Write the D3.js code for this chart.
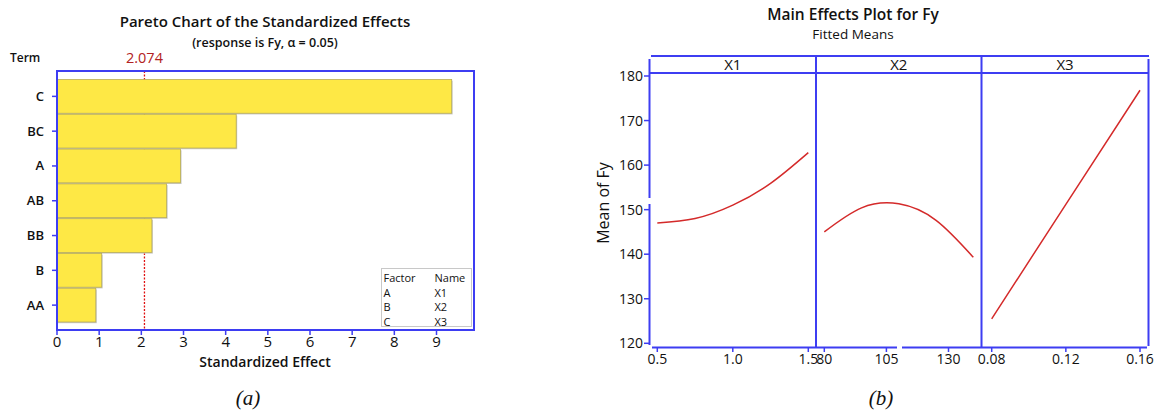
<!DOCTYPE html>
<html>
<head>
<meta charset="utf-8">
<script src="https://cdn.jsdelivr.net/npm/d3@7"></script>
<style>
  body { margin: 0; background: #fff; }
  text { font-family: "Open Sans", "Noto Sans", sans-serif; fill: #111; }
</style>
</head>
<body>
<div id="chart"></div>
<script>
// chart data
var terms = ["C", "BC", "A", "AB", "BB", "B", "AA"];
var effects = [9.36, 4.25, 2.93, 2.60, 2.25, 1.06, 0.92];
var critical = 2.074;
var effectTicks = [0, 1, 2, 3, 4, 5, 6, 7, 8, 9];
var factorCodes = ["A", "B", "C"];
var factorNames = ["X1", "X2", "X3"];

var x1Levels = [0.5, 0.75, 1.0, 1.25, 1.5];
var x1Means = [147.0, 148.0, 151.0, 155.9, 162.8];
var x2Levels = [80, 95, 110, 125, 140];
var x2Means = [145.0, 150.4, 151.3, 147.6, 139.3];
var x3Levels = [0.08, 0.12, 0.16];
var x3Means = [125.5, 151.2, 176.8];
var meanTicks = [120, 130, 140, 150, 160, 170, 180];
var x1Ticks = [0.5, 1.0, 1.5];
var x2Ticks = [80, 105, 130];
var x3Ticks = [0.08, 0.12, 0.16];

var width = 1164, height = 412;
var blue = "#3d3df2", red = "#d42a2a";

var svg = d3.select("#chart").append("svg")
    .attr("width", width)
    .attr("height", height);

// ---------- (a) Pareto chart ----------
var pa = svg.append("g");
var xEff = d3.scaleLinear().domain([0, 9]).range([57, 436.5]);
var yTerm = d3.scaleBand().domain(terms).range([79.5, 322]).paddingInner(0.03);

pa.append("text").attr("x", 265).attr("y", 27).attr("text-anchor", "middle")
    .style("font-size", "15px").style("font-weight", 600)
    .text("Pareto Chart of the Standardized Effects");
pa.append("text").attr("x", 265).attr("y", 47).attr("text-anchor", "middle")
    .style("font-size", "12.5px").style("font-weight", 600)
    .text("(response is Fy, α = 0.05)");
pa.append("text").attr("x", 10).attr("y", 62)
    .style("font-size", "12px").style("font-weight", 600)
    .text("Term");
pa.append("text").attr("x", xEff(critical)).attr("y", 63).attr("text-anchor", "middle")
    .style("font-size", "14.5px").style("fill", "#b22222")
    .text(critical.toFixed(3));

// reference line (bars drawn over it)
pa.append("line")
    .attr("x1", xEff(critical)).attr("x2", xEff(critical))
    .attr("y1", 71).attr("y2", 330)
    .attr("stroke", "#e01010").attr("stroke-width", 1.3)
    .attr("stroke-dasharray", "2,1.5");

// bar shadows + bars
pa.selectAll("rect.shadow").data(terms).enter().append("rect")
    .attr("x", 58)
    .attr("y", function(d) { return yTerm(d) + 1.2; })
    .attr("width", function(d, i) { return xEff(effects[i]) - 57; })
    .attr("height", yTerm.bandwidth())
    .attr("fill", "#c9c9c9");
pa.selectAll("rect.bar").data(terms).enter().append("rect")
    .attr("x", 57)
    .attr("y", function(d) { return yTerm(d); })
    .attr("width", function(d, i) { return xEff(effects[i]) - 57; })
    .attr("height", yTerm.bandwidth())
    .attr("fill", "#fee845")
    .attr("stroke", "#b8ad5a").attr("stroke-width", 0.8);

// frame
pa.append("rect").attr("x", 57).attr("y", 71).attr("width", 417).attr("height", 259)
    .attr("fill", "none").attr("stroke", blue).attr("stroke-width", 2);

// y ticks
pa.selectAll("line.yt").data(terms).enter().append("line")
    .attr("x1", 52).attr("x2", 57)
    .attr("y1", function(d) { return yTerm(d) + yTerm.bandwidth() / 2; })
    .attr("y2", function(d) { return yTerm(d) + yTerm.bandwidth() / 2; })
    .attr("stroke", blue).attr("stroke-width", 1.5);
pa.selectAll("text.yl").data(terms).enter().append("text")
    .attr("x", 44)
    .attr("y", function(d) { return yTerm(d) + yTerm.bandwidth() / 2 + 4.5; })
    .attr("text-anchor", "end")
    .style("font-size", "13px").style("font-weight", 600)
    .text(function(d) { return d; });

// x ticks
pa.selectAll("line.xt").data(effectTicks).enter().append("line")
    .attr("x1", function(d) { return xEff(d); }).attr("x2", function(d) { return xEff(d); })
    .attr("y1", 330).attr("y2", 335)
    .attr("stroke", blue).attr("stroke-width", 1.5);
pa.selectAll("text.xl").data(effectTicks).enter().append("text")
    .attr("x", function(d) { return xEff(d); }).attr("y", 346.5)
    .attr("text-anchor", "middle")
    .style("font-size", "15px")
    .text(function(d) { return d; });
pa.append("text").attr("x", 265).attr("y", 367).attr("text-anchor", "middle")
    .style("font-size", "14px").style("font-weight", 600)
    .text("Standardized Effect");

// factor legend
var lg = pa.append("g");
lg.append("rect").attr("x", 381.5).attr("y", 268.5).attr("width", 90).attr("height", 58)
    .attr("fill", "#fff").attr("stroke", "#c8c8c8").attr("stroke-width", 1);
lg.append("text").attr("x", 383.5).attr("y", 282).style("font-size", "11px").text("Factor");
lg.append("text").attr("x", 434.5).attr("y", 282).style("font-size", "11px").text("Name");
lg.selectAll("text.fc").data(factorCodes).enter().append("text")
    .attr("x", 383.5).attr("y", function(d, i) { return 296.5 + i * 14.5; })
    .style("font-size", "11px").text(function(d) { return d; });
lg.selectAll("text.fn").data(factorNames).enter().append("text")
    .attr("x", 434.5).attr("y", function(d, i) { return 296.5 + i * 14.5; })
    .style("font-size", "11px").text(function(d) { return d; });

pa.append("text").attr("x", 248).attr("y", 405).attr("text-anchor", "middle")
    .style("font-family", "'Liberation Serif', serif").style("font-style", "italic")
    .style("font-size", "21px")
    .text("(a)");

// ---------- (b) Main effects plot ----------
var pb = svg.append("g");
var yMean = d3.scaleLinear().domain([120, 180]).range([343.3, 76]);
var panels = [
  { name: "X1", x: d3.scaleLinear().domain([0.5, 1.5]).range([657.3, 808.3]),
    levels: x1Levels, means: x1Means, ticks: x1Ticks, fmt: d3.format(".1f"), x0: 649.5, x1: 816 },
  { name: "X2", x: d3.scaleLinear().domain([80, 130]).range([824.3, 948.5]),
    levels: x2Levels, means: x2Means, ticks: x2Ticks, fmt: d3.format("d"), x0: 816, x1: 981.5 },
  { name: "X3", x: d3.scaleLinear().domain([0.08, 0.16]).range([991.7, 1140]),
    levels: x3Levels, means: x3Means, ticks: x3Ticks, fmt: d3.format(".2f"), x0: 981.5, x1: 1148.5 }
];

pb.append("text").attr("x", 853).attr("y", 20).attr("text-anchor", "middle")
    .style("font-size", "15.5px").style("font-weight", 600)
    .text("Main Effects Plot for Fy");
pb.append("text").attr("x", 853).attr("y", 39).attr("text-anchor", "middle")
    .style("font-size", "13.5px")
    .text("Fitted Means");

// header strip
pb.append("line").attr("x1", 651).attr("x2", 1149).attr("y1", 56).attr("y2", 56)
    .attr("stroke", blue).attr("stroke-width", 2);
pb.append("line").attr("x1", 649).attr("x2", 1149).attr("y1", 73).attr("y2", 73)
    .attr("stroke", blue).attr("stroke-width", 2);

// spines and dividers
var vlines = [[649.5, 59, 198], [649.5, 204, 345], [816, 56, 347], [981.5, 56, 347], [1148.5, 59, 346]];
pb.selectAll("line.v").data(vlines).enter().append("line")
    .attr("x1", function(d) { return d[0]; }).attr("x2", function(d) { return d[0]; })
    .attr("y1", function(d) { return d[1]; }).attr("y2", function(d) { return d[2]; })
    .attr("stroke", blue).attr("stroke-width", 2);

// bottom axis line (with small break)
var hlines = [[652, 897], [902, 1147]];
pb.selectAll("line.h").data(hlines).enter().append("line")
    .attr("x1", function(d) { return d[0]; }).attr("x2", function(d) { return d[1]; })
    .attr("y1", 347.5).attr("y2", 347.5)
    .attr("stroke", blue).attr("stroke-width", 2);

// y axis
pb.selectAll("line.yt").data(meanTicks).enter().append("line")
    .attr("x1", 644).attr("x2", 649.5)
    .attr("y1", function(d) { return yMean(d); }).attr("y2", function(d) { return yMean(d); })
    .attr("stroke", blue).attr("stroke-width", 1.5);
pb.selectAll("text.yl").data(meanTicks).enter().append("text")
    .attr("x", 643).attr("y", function(d) { return yMean(d) + 5; })
    .attr("text-anchor", "end")
    .style("font-size", "14px")
    .text(function(d) { return d; });
pb.append("text")
    .attr("transform", "translate(609,203) rotate(-90)")
    .attr("text-anchor", "middle")
    .style("font-size", "16px")
    .text("Mean of Fy");

var line = d3.line().curve(d3.curveNatural);

panels.forEach(function(p) {
  var g = pb.append("g");
  g.append("text").attr("x", (p.x0 + p.x1) / 2).attr("y", 70).attr("text-anchor", "middle")
      .style("font-size", "15px").text(p.name);
  g.selectAll("line.xt").data(p.ticks).enter().append("line")
      .attr("x1", function(d) { return p.x(d); }).attr("x2", function(d) { return p.x(d); })
      .attr("y1", 347.5).attr("y2", 352)
      .attr("stroke", blue).attr("stroke-width", 1.5);
  g.selectAll("text.xl").data(p.ticks).enter().append("text")
      .attr("x", function(d) { return p.x(d); }).attr("y", 364)
      .attr("text-anchor", "middle")
      .style("font-size", "14px")
      .text(function(d) { return p.fmt(d); });
  var pts = p.levels.map(function(v, i) { return [p.x(v), yMean(p.means[i])]; });
  g.append("path").attr("d", line(pts))
      .attr("fill", "none").attr("stroke", red).attr("stroke-width", 1.5);
});

pb.append("text").attr("x", 881).attr("y", 405).attr("text-anchor", "middle")
    .style("font-family", "'Liberation Serif', serif").style("font-style", "italic")
    .style("font-size", "21px")
    .text("(b)");
</script>
</body>
</html>
